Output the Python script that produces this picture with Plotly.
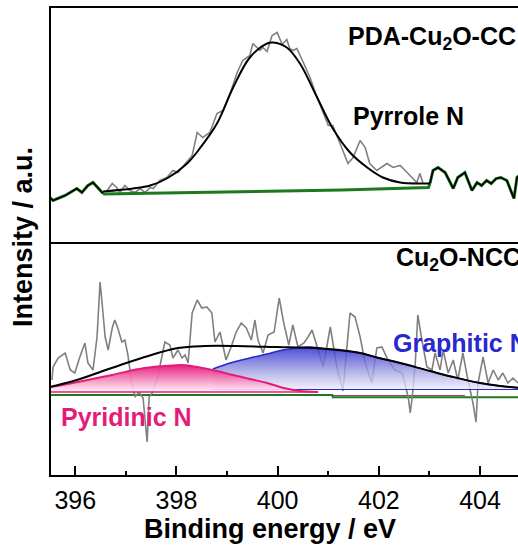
import plotly.graph_objects as go

# ---------------- data (binding energy in eV, intensity in a.u.) ----------------
# Top panel: PDA-Cu2O-CC
top_left_x = [395.50, 395.56, 395.80, 396.03, 396.13, 396.25, 396.35, 396.45, 396.53, 396.55]
top_left_y = [44, 41, 46, 53, 49, 56, 59, 53, 49, 48]
top_right_x = [403.01, 403.07, 403.17, 403.31, 403.47, 403.56, 403.70, 403.84, 403.94, 404.03,
               404.13, 404.22, 404.32, 404.41, 404.53, 404.67, 404.73, 404.83]
top_right_y = [58, 71, 74, 69, 53, 64, 69, 51, 59, 56, 61, 58, 63, 64, 61, 43, 64, 69]

top_raw_x = [396.63, 396.73, 396.82, 396.88, 396.98, 397.08, 397.18, 397.28, 397.38, 397.48,
             397.54, 397.67, 397.81, 397.93, 398.03, 398.17, 398.31, 398.41, 398.52, 398.66,
             398.80, 398.92, 399.06, 399.20, 399.31, 399.45, 399.51, 399.65, 399.71, 399.79,
             399.89, 399.99, 400.09, 400.18, 400.24, 400.30, 400.38, 400.48, 400.64, 400.78,
             400.90, 401.00, 401.09, 401.23, 401.39, 401.49, 401.63, 401.73, 401.82, 401.96,
             402.16, 402.28, 402.42, 402.52, 402.62, 402.75, 402.81, 402.87]
top_raw_y = [51, 58, 54, 49, 56, 51, 49, 53, 49, 54,
             53, 61, 64, 71, 69, 78, 86, 109, 104, 109,
             128, 131, 148, 169, 181, 186, 198, 191, 194, 190,
             206, 209, 197, 202, 193, 191, 193, 182, 164, 144,
             128, 116, 116, 98, 78, 84, 101, 94, 78, 71,
             78, 74, 76, 71, 66, 59, 68, 59]

top_fit_x = [396.55, 397.14, 397.48, 397.81, 398.21, 398.46, 398.80, 399.12, 399.45, 399.79,
             399.91, 400.18, 400.44, 400.78, 401.09, 401.43, 401.77, 402.08, 402.42, 402.87, 403.01]
top_fit_y = [50, 53, 56, 63, 78, 93, 118, 154, 184, 198,
             199, 194, 178, 144, 113, 89, 74, 64, 59, 58, 58]

top_bg_x = [396.55, 397.90, 399.90, 401.27, 402.98, 403.01]
top_bg_y = [47.5, 48.5, 50, 51.5, 54, 58]

# Bottom panel: Cu2O-NCC
bot_raw_x = [395.54, 395.56, 395.66, 395.80, 395.90, 395.99, 396.09, 396.19, 396.25, 396.35,
             396.43, 396.49, 396.53, 396.59, 396.65, 396.73, 396.78, 396.84, 396.92, 396.98,
             397.04, 397.12, 397.18, 397.26, 397.34, 397.42, 397.46, 397.52, 397.63, 397.77,
             397.87, 397.93, 398.03, 398.11, 398.17, 398.23, 398.31, 398.41, 398.50, 398.60,
             398.70, 398.76, 398.86, 398.98, 399.08, 399.18, 399.28, 399.38, 399.48, 399.55,
             399.61, 399.71, 399.81, 399.93, 400.03, 400.12, 400.22, 400.30, 400.40, 400.52,
             400.60, 400.68, 400.80, 400.90, 401.04, 401.17, 401.29, 401.43, 401.53, 401.63,
             401.73, 401.86, 401.96, 402.06, 402.18, 402.32, 402.46, 402.58, 402.62, 402.66,
             402.72, 402.77, 402.85, 402.95, 403.05, 403.11, 403.21, 403.27, 403.37, 403.47,
             403.56, 403.66, 403.76, 403.86, 403.92, 403.96, 404.06, 404.16, 404.26, 404.36,
             404.45, 404.55, 404.65, 404.75]
bot_raw_y = [95, 108, 117, 122, 105, 102, 118, 132, 112, 105,
             138, 193, 172, 138, 125, 147, 155, 147, 133, 135,
             120, 90, 78, 83, 77, 33, 78, 82, 98, 133,
             130, 117, 125, 117, 120, 112, 162, 175, 167, 168,
             162, 133, 143, 115, 128, 143, 152, 147, 135, 155,
             135, 122, 140, 143, 177, 152, 130, 150, 128, 132,
             138, 145, 125, 108, 148, 108, 84, 162, 158, 138,
             112, 92, 127, 128, 115, 105, 102, 78, 62, 78,
             112, 160, 135, 108, 105, 122, 105, 125, 102, 115,
             95, 122, 95, 72, 53, 92, 118, 92, 105, 95,
             102, 92, 97, 92]

bot_env_x = [395.50, 396.03, 396.72, 397.37, 398.03, 398.56, 399.19, 399.97, 400.71, 401.23,
             401.63, 402.00, 402.42, 403.01, 403.47, 404.00, 404.40, 404.83]
bot_env_y = [88, 95, 107, 118, 127, 129, 129, 128, 127, 125,
             122, 117, 112, 104, 98, 92, 89, 87]

pyr_x = [395.50, 396.05, 396.72, 397.37, 397.92, 398.12, 398.46, 398.80, 399.12, 399.45,
         399.79, 400.12, 400.44, 400.80]
pyr_y = [88, 93, 100, 107, 109.5, 110, 107.5, 104, 100, 96,
         92, 87, 84, 83]
pyr_base_x = [395.50, 400.80]
pyr_base_y = [83, 83]

gra_x = [398.72, 399.06, 399.45, 399.79, 400.10, 400.64, 401.09, 401.63, 402.00, 402.42,
         403.01, 403.47, 404.00, 404.40, 404.83]
gra_y = [106, 112, 117, 121, 125, 128, 125, 122, 117, 112,
         104, 98, 92, 89, 87]
gra_base_x = [398.72, 404.83]
gra_base_y = [85.5, 85.5]

bot_bg_x = [395.50, 401.08, 401.09, 404.83]
bot_bg_y = [80, 80, 77.7, 77.7]
bot_bg2_x = [401.09, 403.70]
bot_bg2_y = [79.5, 79.5]

x_ticks = [396, 398, 400, 402, 404]
x_range = [395.52, 404.75]
y_range = [0, 233.5]

# ---------------- figure ----------------
FONT = "Liberation Sans, Arial, sans-serif"
GRAY = "rgb(128,128,128)"
GREEN = "rgb(30,120,30)"
PINK = "rgb(228,28,120)"
BLUE = "rgb(40,40,205)"

fig = go.Figure()

# top panel
fig.add_trace(go.Scatter(x=top_raw_x, y=top_raw_y, mode="lines",
                         line=dict(color=GRAY, width=1.6), xaxis="x2", yaxis="y2"))
for xs, ys in [(top_left_x, top_left_y), (top_bg_x, top_bg_y), (top_right_x, top_right_y)]:
    fig.add_trace(go.Scatter(x=xs, y=ys, mode="lines",
                             line=dict(color=GREEN, width=3), xaxis="x2", yaxis="y2"))
fig.add_trace(go.Scatter(x=top_left_x, y=top_left_y, mode="lines",
                         line=dict(color="black", width=1.6), xaxis="x2", yaxis="y2"))
fig.add_trace(go.Scatter(x=top_fit_x, y=top_fit_y, mode="lines", line_shape="spline",
                         line=dict(color="black", width=2), xaxis="x2", yaxis="y2"))
fig.add_trace(go.Scatter(x=top_right_x, y=top_right_y, mode="lines",
                         line=dict(color="black", width=1.6), xaxis="x2", yaxis="y2"))

# bottom panel
fig.add_trace(go.Scatter(x=bot_bg_x, y=bot_bg_y, mode="lines",
                         line=dict(color=GREEN, width=2), xaxis="x", yaxis="y"))
fig.add_trace(go.Scatter(x=bot_bg2_x, y=bot_bg2_y, mode="lines",
                         line=dict(color="rgb(150,70,80)", width=1), xaxis="x", yaxis="y"))
fig.add_trace(go.Scatter(x=bot_raw_x, y=bot_raw_y, mode="lines",
                         line=dict(color=GRAY, width=1.6), xaxis="x", yaxis="y"))
fig.add_trace(go.Scatter(x=gra_base_x, y=gra_base_y, mode="lines",
                         line=dict(color=BLUE, width=1.2), xaxis="x", yaxis="y"))
fig.add_trace(go.Scatter(x=gra_x, y=gra_y, mode="lines", line_shape="spline",
                         line=dict(color=BLUE, width=1.5), fill="tonexty",
                         fillgradient=dict(type="vertical", start=85.5, stop=128,
                                           colorscale=[[0, "rgba(238,238,248,0.8)"],
                                                       [0.35, "rgba(175,175,232,0.8)"],
                                                       [1, "rgba(45,45,205,0.85)"]]),
                         xaxis="x", yaxis="y"))
fig.add_trace(go.Scatter(x=pyr_base_x, y=pyr_base_y, mode="lines",
                         line=dict(color=PINK, width=1.5), xaxis="x", yaxis="y"))
fig.add_trace(go.Scatter(x=pyr_x, y=pyr_y, mode="lines", line_shape="spline",
                         line=dict(color=PINK, width=2), fill="tonexty",
                         fillgradient=dict(type="vertical", start=83, stop=110,
                                           colorscale=[[0, "rgba(255,240,248,0.9)"],
                                                       [1, "rgba(232,20,120,0.95)"]]),
                         xaxis="x", yaxis="y"))
fig.add_trace(go.Scatter(x=bot_env_x, y=bot_env_y, mode="lines", line_shape="spline",
                         line=dict(color="black", width=2), xaxis="x", yaxis="y"))

fig.update_layout(
    width=518, height=552,
    margin=dict(l=51, r=0, t=8, b=77),
    paper_bgcolor="white", plot_bgcolor="white",
    showlegend=False,
    font=dict(family=FONT, color="black"),
    xaxis=dict(range=x_range, showline=True, linewidth=2, linecolor="black", mirror=False,
               showgrid=False, zeroline=False,
               anchor="y", tickvals=x_ticks, ticks="inside", ticklen=9,
               tickwidth=2, tickcolor="black", ticklabelstandoff=2,
               tickfont=dict(family=FONT, size=25, color="black"),
               minor=dict(dtick=1, tick0=395, ticks="inside", ticklen=4, tickwidth=1.5,
                          tickcolor="black")),
    xaxis2=dict(range=x_range, showline=True, linewidth=2, linecolor="black", mirror=True,
                showgrid=False, zeroline=False,
                anchor="y2", matches="x", showticklabels=False, ticks=""),
    yaxis=dict(domain=[0, 0.5], range=y_range, showline=True, linewidth=2, linecolor="black",
               showticklabels=False, ticks="", showgrid=False, zeroline=False),
    yaxis2=dict(domain=[0.5, 1], range=y_range, showline=True, linewidth=2, linecolor="black",
                showticklabels=False, ticks="", showgrid=False, zeroline=False),
)

def label(text, x, y, color="black", size=25, xanchor="left", angle=0):
    fig.add_annotation(text=text, x=x, y=y, xref="paper", yref="paper", showarrow=False,
                       xanchor=xanchor, yanchor="middle", textangle=angle,
                       font=dict(family=FONT, size=size, color=color, weight="bold"))

label("PDA-Cu<sub>2</sub>O-CC", 0.632, 0.935)
label("Pyrrole N", 0.6427, 0.7677)
label("Cu<sub>2</sub>O-NCC", 0.7346, 0.462)
label("Graphitic N", 0.7282, 0.2816, color=BLUE)
label("Pyridinic N", 0.0163, 0.1242, color=PINK)
label("Binding energy / eV", 0.469, -0.1156, size=27, xanchor="center")
label("Intensity / a.u.", -0.06, 0.5096, size=27, xanchor="center", angle=-90)

fig.write_html("out.html", config={"displayModeBar": False},
               post_script="document.body.style.margin='0';")
